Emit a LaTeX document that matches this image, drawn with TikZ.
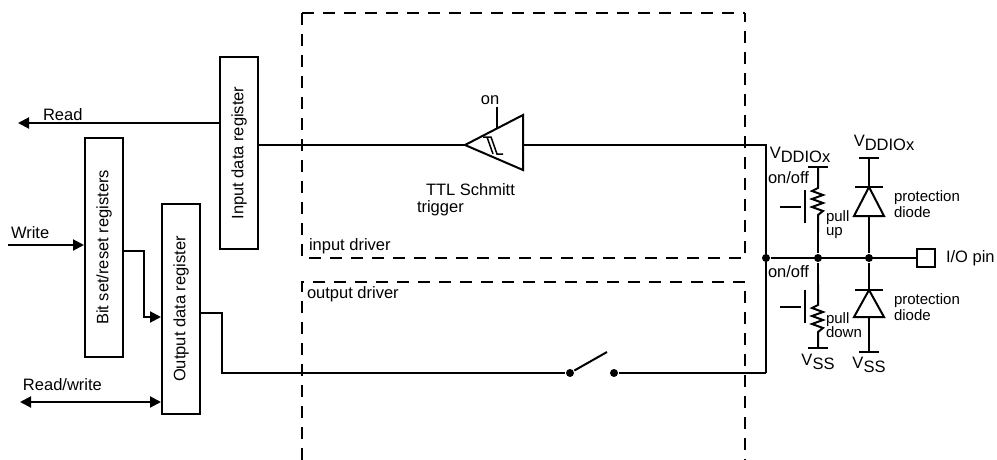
\documentclass[tikz,border=0pt]{standalone}
\usepackage{fontspec}
\setmainfont{Liberation Sans}
\usetikzlibrary{arrows.meta,calc}
\newcommand{\supply}[1]{V\raisebox{-0.45ex}{#1}}

\begin{document}
\begin{tikzpicture}[x=1pt,y=-1pt,line width=2pt,line cap=butt,font=\fontsize{16.5}{18}\selectfont]
  \tikzset{
    reg/.style={draw,rotate=90,minimum height=38pt,inner sep=0pt},
    tip/.style={-{Triangle[length=11pt,width=11pt]}},
    dashline/.style={dash pattern=on 12pt off 9pt,line width=1.8pt},
    dot/.style={circle,fill,inner sep=0pt,minimum size=8pt},
    label/.style={inner sep=0pt,anchor=west,align=left}
  }
  \useasboundingbox (0,0) rectangle (997,460);

  % Registers
  \node[reg,minimum width=192pt] (inreg) at (239,153) {Input data register};
  \node[reg,minimum width=219pt] (bitreg) at (104,247.5) {Bit set/reset registers};
  \node[reg,minimum width=210pt] (outreg) at (181,309) {Output data register};

  % Bus side
  \coordinate (rd) at (18,123);
  \coordinate (wr) at (8,245);
  \coordinate (rw) at (20,402);
  \draw[tip] (inreg.north |- rd) -- (rd);
  \node[label] at (42,115) {Read};
  \draw[tip] (wr) -- (bitreg.north |- wr);
  \node[label] at (10,233) {Write};
  \draw[{Triangle[length=11pt,width=11pt]}-{Triangle[length=11pt,width=11pt]}] (rw) -- (outreg.north |- rw);
  \node[label] at (22,385) {Read/write};
  \draw[tip] (bitreg.south |- 0,251) -| (144,317) -- (outreg.north |- 0,317);

  % Driver boxes
  \draw[dashline] (302,13) -- (745,13);
  \draw[dashline] (302,13) -- (302,258) -- (745,258) -- (745,13);
  \draw[dashline] (302,460) -- (302,282) -- (745,282) -- (745,460);
  \node[label,anchor=south west] at (308,255) {input driver};
  \node[label,anchor=north west] at (306,286) {output driver};

  % Schmitt trigger
  \coordinate (stin) at (523,145);
  \draw (523,115) -- (523,170) -- (465,145) -- cycle;
  \draw[line width=1.5pt] (483,137) -- (491,137) -- (497,154) -- (503,154)
    (487,137) -- (493,154);
  \draw (497,107) -- (497,129);
  \node[label,anchor=south] at (490,106) {on};
  \node[label] at (425,190) {TTL Schmitt};
  \node[label] at (416,208) {trigger};
  \draw (inreg.south |- 0,145) -- (465,145);
  \coordinate (jin) at (766,145);
  \node[dot] (j1) at (766,258) {};
  \draw (stin) -- (jin) -- (766,373);

  % Output path with switch
  \node[dot] (sw1) at (570,373) {};
  \node[dot] (sw2) at (614,373) {};
  \draw (outreg.south |- 0,313) -| (222,373) -- (sw1);
  \draw (sw1) -- (607,352);
  \draw (sw2) -- (766,373);

  % Pin
  \node[draw,minimum size=18pt,inner sep=0pt] (pin) at (926,258) {};
  \node[label] at (945,258) {I/O pin};
  \node[dot] (j2) at (818,258) {};
  \node[dot] (j3) at (869,258) {};
  \draw (j1) -- (pin);

  % Pull up / pull down
  \foreach \t/\b/\g in {167/232/207, 284/348/307} {
    \draw (818,\t) -- (818,\t+21) -- (812,\t+24) -- (823,\t+28) -- (812,\t+32) -- (823,\t+36)
      -- (812,\t+40) -- (823,\t+44) -- (818,\t+48) -- (818,\b);
    \draw (805,\g-17) -- (805,\g+16);
    \draw (780,\g) -- (801,\g);
  }
  \draw (808,167) -- (828,167);
  \draw (818,232) -- (j2) -- (818,284);
  \draw (808,348) -- (828,348);
  \node[label] at (767,178) {on/off};
  \node[label] at (767,272) {on/off};
  \node[label,font=\fontsize{15}{14}\selectfont] at (825,225) {pull\\up};
  \node[label,font=\fontsize{15}{14}\selectfont] at (825,325) {pull\\down};
  \node[label,anchor=south] at (800,164) {\supply{DDIOx}};
  \node[label,anchor=south] at (884,152) {\supply{DDIOx}};
  \node[label,anchor=north] at (818,353) {\supply{SS}};
  \node[label,anchor=north] at (869,356) {\supply{SS}};

  % Protection diodes
  \foreach \k/\s in {187/216, 290/317} {
    \draw (855,\k) -- (883,\k);
    \draw (854,\s) -- (884,\s) -- (869,\k) -- cycle;
    \node[label,font=\fontsize{15}{16}\selectfont] at (893,\k+17) {protection\\diode};
  }
  \draw (859,158) -- (879,158) (869,158) -- (869,187);
  \draw (869,216) -- (j3) -- (869,290);
  \draw (869,317) -- (869,352) (859,352) -- (879,352);
\end{tikzpicture}
\end{document}
